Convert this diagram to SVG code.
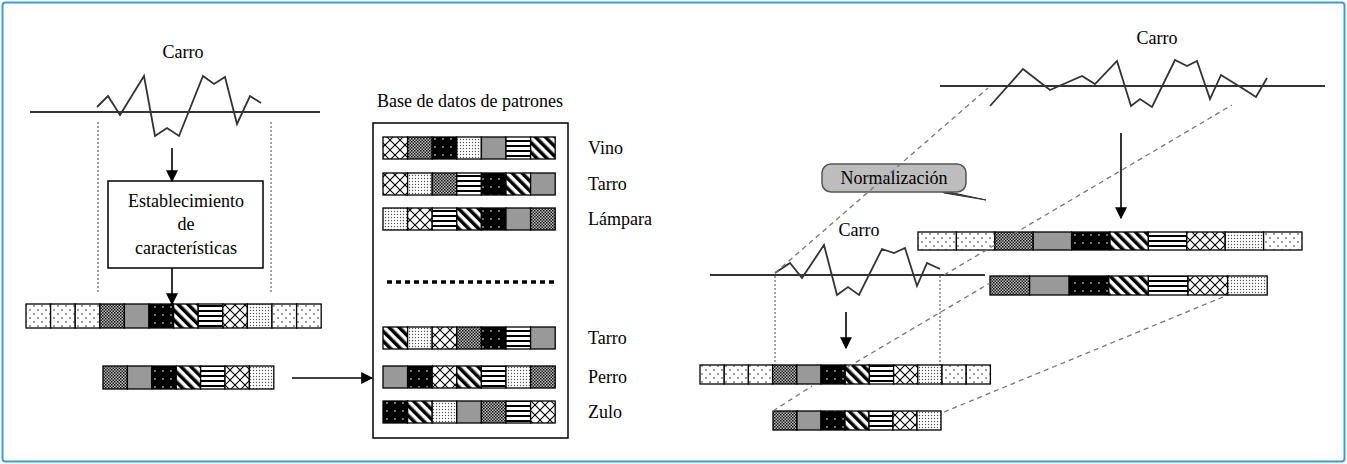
<svg xmlns="http://www.w3.org/2000/svg" width="1347" height="464" viewBox="0 0 1347 464" font-family="'Liberation Serif','DejaVu Serif',serif">
<style>
text{font-family:'Liberation Serif','DejaVu Serif',serif;fill:#000}
.t{font-size:18px}
.c{stroke:#000;stroke-width:1.3}
.ln{stroke:#333;stroke-width:2;fill:none}
.zz{stroke:#333;stroke-width:1.8;fill:none;stroke-linejoin:miter}
.vd{stroke:#666;stroke-width:1.2;stroke-dasharray:2 2;fill:none}
.dd{stroke:#777;stroke-width:1.3;stroke-dasharray:5 4;fill:none}
.ar{stroke:#000;stroke-width:1.6;fill:none}
.W{fill:url(#pW)}.D{fill:url(#pD)}.G{fill:#999}.B{fill:url(#pB)}.S{fill:url(#pS)}.H{fill:url(#pH)}.X{fill:url(#pX)}.L{fill:url(#pL)}
</style>
<defs>
<marker id="ah2" viewBox="0 0 10 10" refX="9" refY="5" markerWidth="12" markerHeight="12" markerUnits="userSpaceOnUse" orient="auto"><path d="M0 0L10 5L0 10z" fill="#000"/></marker>
<pattern id="pW" width="8" height="8" patternUnits="userSpaceOnUse"><rect width="8" height="8" fill="#fff"/><circle cx="2" cy="2" r="0.7" fill="#000"/><circle cx="6" cy="6" r="0.7" fill="#000"/></pattern>
<pattern id="pD" width="3" height="3" patternUnits="userSpaceOnUse"><rect width="3" height="3" fill="#bbb"/><rect width="1.5" height="1.5" fill="#111"/><rect x="1.5" y="1.5" width="1.5" height="1.5" fill="#222"/></pattern>
<pattern id="pB" width="8" height="8" patternUnits="userSpaceOnUse"><rect width="8" height="8" fill="#000"/><circle cx="3" cy="3" r="0.8" fill="#fff"/></pattern>
<pattern id="pS" width="7" height="7" patternUnits="userSpaceOnUse" patternTransform="rotate(-45)"><rect width="7" height="7" fill="#fff"/><rect width="3.5" height="7" fill="#000"/></pattern>
<pattern id="pH" width="5" height="5" patternUnits="userSpaceOnUse"><rect width="5" height="5" fill="#fff"/><rect width="5" height="2" fill="#000"/></pattern>
<pattern id="pX" width="10" height="10" patternUnits="userSpaceOnUse"><rect width="10" height="10" fill="#fff"/><path d="M0 0L10 10M10 0L0 10" stroke="#000" stroke-width="1.1"/></pattern>
<pattern id="pL" width="3" height="3" patternUnits="userSpaceOnUse"><rect width="3" height="3" fill="#fff"/><circle cx="1.5" cy="1.5" r="0.7" fill="#555"/></pattern>
</defs>
<rect x="0" y="0" width="1347" height="464" fill="#fff"/>
<rect x="2.5" y="2.5" width="1342" height="459" rx="3" fill="none" stroke="#3a9fd0" stroke-width="2"/>

<g id="left-signal">
<text x="183" y="58" class="t" text-anchor="middle">Carro</text>
<line x1="30" y1="112" x2="320" y2="112" class="ln"/>
<polyline class="zz" points="97,107 108,96 120,115 144,76 155,136 167,128 179,136 203,76 214,84 225,77 237,124 250,96 261,103"/>
<line x1="98" y1="122" x2="98" y2="293" class="vd"/>
<line x1="271" y1="122" x2="271" y2="293" class="vd"/>
</g>
<g id="feature-box">
<rect x="108" y="181" width="155" height="87" fill="#fff" stroke="#000" stroke-width="1.5"/>
<text x="186" y="207" class="t" text-anchor="middle">Establecimiento</text>
<text x="186" y="230" class="t" text-anchor="middle">de</text>
<text x="186" y="254" class="t" text-anchor="middle">características</text>
</g>
<g id="left-bar-long" class="c">
<rect x="26" y="304" width="24.6" height="24" class="W"/><rect x="50.6" y="304" width="24.6" height="24" class="W"/><rect x="75.2" y="304" width="24.6" height="24" class="W"/><rect x="99.8" y="304" width="24.6" height="24" class="D"/><rect x="124.4" y="304" width="24.6" height="24" class="G"/><rect x="149" y="304" width="24.6" height="24" class="B"/><rect x="173.6" y="304" width="24.6" height="24" class="S"/><rect x="198.2" y="304" width="24.6" height="24" class="H"/><rect x="222.8" y="304" width="24.6" height="24" class="X"/><rect x="247.4" y="304" width="24.6" height="24" class="L"/><rect x="272" y="304" width="24.6" height="24" class="W"/><rect x="296.6" y="304" width="24.6" height="24" class="W"/>
</g>
<g id="left-bar-short" class="c">
<rect x="103" y="366" width="24.4" height="23" class="D"/><rect x="127.4" y="366" width="24.4" height="23" class="G"/><rect x="151.8" y="366" width="24.4" height="23" class="B"/><rect x="176.2" y="366" width="24.4" height="23" class="S"/><rect x="200.6" y="366" width="24.4" height="23" class="H"/><rect x="225" y="366" width="24.4" height="23" class="X"/><rect x="249.4" y="366" width="24.4" height="23" class="L"/>
</g>

<g id="database">
<text x="470" y="107" class="t" text-anchor="middle">Base de datos de patrones</text>
<rect x="373" y="123" width="195" height="315" fill="none" stroke="#000" stroke-width="1.5"/>
<g class="c">
<rect x="383" y="137" width="24.6" height="22" class="X"/><rect x="407.6" y="137" width="24.6" height="22" class="D"/><rect x="432.2" y="137" width="24.6" height="22" class="B"/><rect x="456.8" y="137" width="24.6" height="22" class="L"/><rect x="481.4" y="137" width="24.6" height="22" class="G"/><rect x="506" y="137" width="24.6" height="22" class="H"/><rect x="530.6" y="137" width="24.6" height="22" class="S"/>
<rect x="383" y="173" width="24.6" height="22" class="X"/><rect x="407.6" y="173" width="24.6" height="22" class="L"/><rect x="432.2" y="173" width="24.6" height="22" class="D"/><rect x="456.8" y="173" width="24.6" height="22" class="H"/><rect x="481.4" y="173" width="24.6" height="22" class="B"/><rect x="506" y="173" width="24.6" height="22" class="S"/><rect x="530.6" y="173" width="24.6" height="22" class="G"/>
<rect x="383" y="208" width="24.6" height="22" class="L"/><rect x="407.6" y="208" width="24.6" height="22" class="X"/><rect x="432.2" y="208" width="24.6" height="22" class="H"/><rect x="456.8" y="208" width="24.6" height="22" class="S"/><rect x="481.4" y="208" width="24.6" height="22" class="B"/><rect x="506" y="208" width="24.6" height="22" class="G"/><rect x="530.6" y="208" width="24.6" height="22" class="D"/>
<rect x="383" y="327" width="24.6" height="22" class="S"/><rect x="407.6" y="327" width="24.6" height="22" class="L"/><rect x="432.2" y="327" width="24.6" height="22" class="X"/><rect x="456.8" y="327" width="24.6" height="22" class="D"/><rect x="481.4" y="327" width="24.6" height="22" class="B"/><rect x="506" y="327" width="24.6" height="22" class="H"/><rect x="530.6" y="327" width="24.6" height="22" class="G"/>
<rect x="383" y="366" width="24.6" height="22" class="G"/><rect x="407.6" y="366" width="24.6" height="22" class="B"/><rect x="432.2" y="366" width="24.6" height="22" class="X"/><rect x="456.8" y="366" width="24.6" height="22" class="S"/><rect x="481.4" y="366" width="24.6" height="22" class="H"/><rect x="506" y="366" width="24.6" height="22" class="L"/><rect x="530.6" y="366" width="24.6" height="22" class="D"/>
<rect x="383" y="401" width="24.6" height="22" class="B"/><rect x="407.6" y="401" width="24.6" height="22" class="S"/><rect x="432.2" y="401" width="24.6" height="22" class="L"/><rect x="456.8" y="401" width="24.6" height="22" class="G"/><rect x="481.4" y="401" width="24.6" height="22" class="D"/><rect x="506" y="401" width="24.6" height="22" class="H"/><rect x="530.6" y="401" width="24.6" height="22" class="X"/>
</g>
<line x1="387" y1="282" x2="556" y2="282" stroke="#000" stroke-width="3.5" stroke-dasharray="5 4"/>
<text x="588" y="154" class="t">Vino</text>
<text x="588" y="190" class="t">Tarro</text>
<text x="588" y="225" class="t">Lámpara</text>
<text x="588" y="344" class="t">Tarro</text>
<text x="588" y="383" class="t">Perro</text>
<text x="588" y="418" class="t">Zulo</text>
</g>

<g id="right-top-signal">
<text x="1157" y="44" class="t" text-anchor="middle">Carro</text>
<line x1="940" y1="86" x2="1325" y2="86" class="ln"/>
<polyline class="zz" points="990,106 1023,69 1050,90 1082,76 1095,84 1117,61 1131,106 1140,99 1152,107 1175,60 1187,66 1197,61 1210,99 1221,75 1242,88 1256,97 1267,78"/>
</g>
<g id="normalizacion">
<path d="M940,190 L986,200 L944,193 Z" fill="#444" stroke="#333"/>
<rect x="822" y="164" width="144" height="28" rx="9" fill="#bdbdbd" stroke="#555" stroke-width="1.5"/>
<text x="894" y="184" class="t" text-anchor="middle">Normalización</text>
</g>
<g id="right-bar-upper" class="c">
<rect x="918" y="232" width="38.4" height="18" class="W"/><rect x="956.4" y="232" width="38.4" height="18" class="W"/><rect x="994.8" y="232" width="38.4" height="18" class="D"/><rect x="1033.2" y="232" width="38.4" height="18" class="G"/><rect x="1071.6" y="232" width="38.4" height="18" class="B"/><rect x="1110" y="232" width="38.4" height="18" class="S"/><rect x="1148.4" y="232" width="38.4" height="18" class="H"/><rect x="1186.8" y="232" width="38.4" height="18" class="X"/><rect x="1225.2" y="232" width="38.4" height="18" class="L"/><rect x="1263.6" y="232" width="38.4" height="18" class="W"/>
</g>
<g id="right-bar-lower" class="c">
<rect x="990" y="276" width="39.6" height="19" class="D"/><rect x="1029.6" y="276" width="39.6" height="19" class="G"/><rect x="1069.2" y="276" width="39.6" height="19" class="B"/><rect x="1108.8" y="276" width="39.6" height="19" class="S"/><rect x="1148.4" y="276" width="39.6" height="19" class="H"/><rect x="1188" y="276" width="39.6" height="19" class="X"/><rect x="1227.6" y="276" width="39.6" height="19" class="L"/>
</g>
<g id="right-low-signal">
<text x="859" y="236" class="t" text-anchor="middle">Carro</text>
<line x1="710" y1="275" x2="985" y2="275" class="ln"/>
<polyline class="zz" points="775,273 790,263 802,278 824,245 837,295 848,287 859,295 882,249 894,253 905,248 917,286 927,263 940,269"/>
<line x1="775" y1="276" x2="775" y2="365" class="vd"/>
<line x1="940" y1="276" x2="940" y2="365" class="vd"/>
</g>
<g id="right-bar-long" class="c">
<rect x="700" y="365" width="24.2" height="19" class="W"/><rect x="724.2" y="365" width="24.2" height="19" class="W"/><rect x="748.4" y="365" width="24.2" height="19" class="W"/><rect x="772.6" y="365" width="24.2" height="19" class="D"/><rect x="796.8" y="365" width="24.2" height="19" class="G"/><rect x="821" y="365" width="24.2" height="19" class="B"/><rect x="845.2" y="365" width="24.2" height="19" class="S"/><rect x="869.4" y="365" width="24.2" height="19" class="H"/><rect x="893.6" y="365" width="24.2" height="19" class="X"/><rect x="917.8" y="365" width="24.2" height="19" class="L"/><rect x="942" y="365" width="24.2" height="19" class="W"/><rect x="966.2" y="365" width="24.2" height="19" class="W"/>
</g>
<g id="right-bar-short" class="c">
<rect x="773" y="411" width="24" height="19" class="D"/><rect x="797" y="411" width="24" height="19" class="G"/><rect x="821" y="411" width="24" height="19" class="B"/><rect x="845" y="411" width="24" height="19" class="S"/><rect x="869" y="411" width="24" height="19" class="H"/><rect x="893" y="411" width="24" height="19" class="X"/><rect x="917" y="411" width="24" height="19" class="L"/>
</g>

<g id="connectors">
<line x1="172" y1="148" x2="172" y2="181" class="ar" marker-end="url(#ah2)"/>
<line x1="172" y1="268" x2="172" y2="304" class="ar" marker-end="url(#ah2)"/>
<line x1="292" y1="378" x2="372" y2="378" class="ar" marker-end="url(#ah2)"/>
<line x1="1121" y1="133" x2="1121" y2="218" class="ar" marker-end="url(#ah2)"/>
<line x1="846" y1="312" x2="846" y2="348" class="ar" marker-end="url(#ah2)"/>
<line x1="775" y1="273" x2="988" y2="88" class="dd"/>
<line x1="944" y1="275" x2="1232" y2="105" class="dd"/>
<line x1="848" y1="367" x2="990" y2="283" class="dd"/>
<line x1="944" y1="412" x2="1223" y2="297" class="dd"/>
<line x1="773" y1="411" x2="812" y2="386" class="dd"/>
</g>
</svg>
